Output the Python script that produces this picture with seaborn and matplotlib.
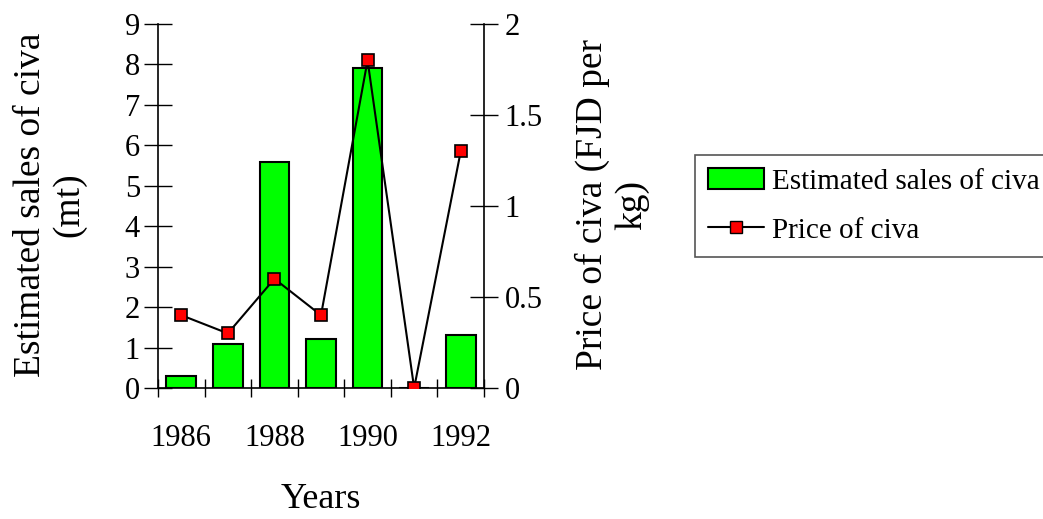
import matplotlib
matplotlib.use("Agg")
import matplotlib.pyplot as plt
import seaborn as sns
import numpy as np
import pandas as pd
from matplotlib.patches import Patch
from matplotlib.lines import Line2D
from matplotlib.ticker import FixedLocator

years = ["1986", "1987", "1988", "1989", "1990", "1991", "1992"]
sales = [0.3, 1.1, 5.6, 1.2, 7.9, 0.0, 1.3]
price = [0.4, 0.3, 0.6, 0.4, 1.8, 0.0, 1.3]
shown_year_labels = ["1986", "1988", "1990", "1992"]

sns.set_style("white")
plt.rcParams['font.family'] = ['Liberation Serif', 'DejaVu Serif']
plt.rcParams['text.color'] = 'black'
plt.rcParams['xtick.color'] = 'black'
plt.rcParams['ytick.color'] = 'black'
plt.rcParams['axes.labelcolor'] = 'black'

df = pd.DataFrame({"year": years, "sales": sales, "price": price, "pos": np.arange(len(years))})

fig = plt.figure(figsize=(10.43, 5.19), dpi=100)
ax = fig.add_axes([158/1043, 1-388/519, (484-158)/1043, (388-24)/519])

sns.barplot(data=df, x="year", y="sales", color="#00ff00", edgecolor="black",
            linewidth=1.5, width=0.64, saturation=1, ax=ax)
ax2 = ax.twinx()
sns.lineplot(data=df, x="pos", y="price", color="black", linewidth=1.5, marker="s",
             markersize=9, markerfacecolor="#ff0000", markeredgecolor="black",
             markeredgewidth=1.2, ax=ax2, legend=False)

ax.set_xlim(-0.5, len(years)-0.5)
ax.set_ylim(0, 9)
ax2.set_ylim(0, 2)
ax2.set_xlim(-0.5, len(years)-0.5)
ax.set_yticks(range(0, 10))
ax2.set_yticks([0, 0.5, 1, 1.5, 2])
ax2.set_yticklabels(["0", "0.5", "1", "1.5", "2"])

idx = [years.index(y) for y in shown_year_labels]
ax.set_xticks(idx)
ax.set_xticklabels(shown_year_labels)
ax.xaxis.set_minor_locator(FixedLocator(np.arange(-0.5, len(years), 1.0)))
ax.tick_params(axis="x", which="major", bottom=True, length=0, pad=26, labelsize=22, labelcolor="black")
ax.tick_params(axis="x", which="minor", bottom=True, length=13, direction="inout",
               width=1, color="black")
ax2.tick_params(axis="x", which="both", bottom=False, top=False, labelbottom=False, labeltop=False)
ax.tick_params(axis="y", left=True, length=20, direction="inout", width=1, labelsize=22, pad=3,
               color="black", labelcolor="black")
ax2.tick_params(axis="y", right=True, length=20, direction="inout", width=1, labelsize=22, pad=5,
                color="black", labelcolor="black")

ax.set_xlabel("")
ax.set_ylabel("")
ax2.set_xlabel("")
ax2.set_ylabel("")

for a in (ax, ax2):
    for s in a.spines.values():
        s.set_visible(False)
ax.spines["left"].set_visible(True)
ax.spines["bottom"].set_visible(True)
ax2.spines["right"].set_visible(True)
for s in ("left", "bottom"):
    ax.spines[s].set_color("black")
    ax.spines[s].set_linewidth(1.2)
ax2.spines["right"].set_color("black")
ax2.spines["right"].set_linewidth(1.2)
ax.set_facecolor("none")
ax2.set_facecolor("none")

fig.text(50/1043, 1-205/519, "Estimated sales of civa\n(mt)", rotation=90,
         ha="center", va="center", fontsize=27, multialignment="center", linespacing=1.15)
fig.text(612/1043, 1-205/519, "Price of civa (FJD per\nkg)", rotation=90,
         ha="center", va="center", fontsize=27, multialignment="center", linespacing=1.15)
fig.text(321/1043, 1-500/519, "Years", ha="center", va="center", fontsize=26)

handles = [Patch(facecolor="#00ff00", edgecolor="black", linewidth=1.5),
           Line2D([0], [0], color="black", linewidth=1.5, marker="s", markersize=9,
                  markerfacecolor="#ff0000", markeredgecolor="black")]
leg = fig.legend(handles, ["Estimated sales of civa", "Price of civa"],
                 loc="upper left", bbox_to_anchor=(695/1043, 1-155/519),
                 fontsize=21, frameon=True, fancybox=False, framealpha=1,
                 edgecolor="#555555", handlelength=1.9, handletextpad=0.3,
                 borderpad=0.45, labelspacing=0.78, borderaxespad=0)
leg.get_frame().set_linewidth(1.2)
for t in leg.get_texts():
    t.set_color("black")

fig.savefig("out.png", dpi=100)
